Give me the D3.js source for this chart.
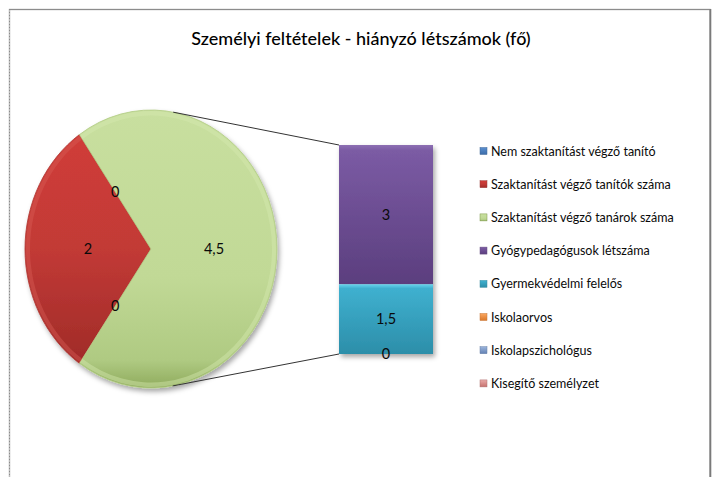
<!DOCTYPE html>
<html><head><meta charset="utf-8">
<script src="https://cdn.jsdelivr.net/npm/d3@7"></script>
<style>
html,body{margin:0;padding:0;background:#fff;}
svg{display:block;}
text{font-family:Lato,"Open Sans",sans-serif;fill:#0a0a0a;}
</style></head><body>
<svg id="c" width="715" height="477"></svg>
<script>
// ---- data ----
const title = "Személyi feltételek - hiányzó létszámok (fő)";
const categories = [
  "Nem szaktanítást végző tanító",
  "Szaktanítást végző tanítók száma",
  "Szaktanítást végző tanárok száma",
  "Gyógypedagógusok létszáma",
  "Gyermekvédelmi felelős",
  "Iskolaorvos",
  "Iskolapszichológus",
  "Kisegítő személyzet"
];
const values = [0, 2, 0, 3, 1.5, 0, 0, 0];
const pieCount = 3; // first points in the pie, rest in the bar
const seriesColors = ["#4f81bd","#c0504d","#9bbb59","#8064a2","#4bacc6","#f79646","#7f9fcf","#d98f8d"];

const hu = d3.formatLocale({decimal:",", thousands:" ", grouping:[3], currency:["","Ft"]});
const fmt = v => hu.format("~g")(v);

const svg = d3.select("#c");
const defs = svg.append("defs");

// frame
svg.append("rect").attr("x",9.5).attr("y",9.5).attr("width",700.5).attr("height",480)
  .attr("fill","#fff").attr("stroke","#8c8c8c").attr("stroke-width",1.3);
svg.append("line").attr("x1",710.5).attr("x2",710.5).attr("y1",9).attr("y2",477)
  .attr("stroke","#7a7a7a").attr("stroke-width",1.6);
svg.append("line").attr("x1",9.5).attr("x2",9.5).attr("y1",10).attr("y2",477)
  .attr("stroke","#bbb").attr("stroke-width",1).attr("stroke-dasharray","2,1");

// title
svg.append("text").attr("x",361).attr("y",45).attr("text-anchor","middle")
  .style("font-size","18px").style("font-weight","500").style("fill","#000").text(title);

// filters
const sh = defs.append("filter").attr("id","sh").attr("x","-20%").attr("y","-20%").attr("width","150%").attr("height","150%");
sh.append("feDropShadow").attr("dx",2).attr("dy",3).attr("stdDeviation",2.5).attr("flood-color","#000").attr("flood-opacity",0.35);

function linGrad(id, stops){
  const g = defs.append("linearGradient").attr("id",id).attr("x1",0).attr("y1",0).attr("x2",0).attr("y2",1);
  stops.forEach(s=>g.append("stop").attr("offset",s[0]).attr("stop-color",s[1]));
}
linGrad("gRed",[[0,"#d03c38"],[0.5,"#c23a36"],[1,"#a02b28"]]);
linGrad("gGreen",[[0,"#c8df9f"],[0.6,"#c1d996"],[0.9,"#afca82"],[1,"#8fab5d"]]);
linGrad("gBlue",[[0,"#5b8fd0"],[1,"#3c6ca8"]]);
linGrad("gPurple",[[0,"#8d6fb3"],[0.04,"#7b5ba4"],[1,"#5b3e7e"]]);
linGrad("gCyan",[[0,"#66d3ec"],[0.06,"#3fb0cf"],[1,"#2c8ea9"]]);
linGrad("gOrange",[[0,"#fba760"],[1,"#d9782a"]]);
linGrad("gBlueGray",[[0,"#9ab4dc"],[1,"#6381b3"]]);
linGrad("gPink",[[0,"#e9aaa8"],[1,"#c6716e"]]);
const gradIds = ["gBlue","gRed","gGreen","gPurple","gCyan","gOrange","gBlueGray","gPink"];

// ---- pie ----
const cx = 151, cy = 249, rx = 126, ry = 139;
const pieVals = values.slice(0,pieCount).map((v,i)=>({v, i, label: fmt(v)}));
const otherSum = d3.sum(values.slice(pieCount));
pieVals.push({v: otherSum, i: 2, label: fmt(otherSum), other:true});
const total = d3.sum(pieVals, d=>d.v);
// rotate so that the "other" slice faces the bar (centered on the right), drawn counter-clockwise
const before = d3.sum(pieVals.slice(0,pieVals.length-1), d=>d.v);
const a0 = Math.PI/2 + (before + otherSum/2)/total*2*Math.PI;
const pie = d3.pie().value(d=>d.v).sort(null).startAngle(a0).endAngle(a0 - 2*Math.PI);
const arcs = pie(pieVals);
const arc = d3.arc().innerRadius(0).outerRadius(rx);
const pg = svg.append("g").attr("transform",`translate(${cx},${cy}) scale(1,${ry/rx})`);
pg.append("g").attr("filter","url(#sh)").selectAll("path").data(arcs.filter(d=>d.data.v>0)).join("path")
  .attr("d",arc)
  .attr("fill",d=>`url(#${gradIds[d.data.i]})`)
  .attr("stroke",d=>d.data.other?"#b3cd86":"#b13a36").attr("stroke-width",0.8);
// rim highlight
pg.selectAll("path.rim").data(arcs.filter(d=>d.data.v>0)).join("path").attr("class","rim")
  .attr("d",d3.arc().innerRadius(rx-5).outerRadius(rx-1))
  .attr("fill",d=>d.data.other?"#d4e8b0":"#d85a55").attr("opacity",0.45);

// labels at half radius
const labArc = d3.arc().innerRadius(rx*0.5).outerRadius(rx*0.5);
svg.append("g").selectAll("text").data(arcs).join("text")
  .attr("x",d=>cx + labArc.centroid(d)[0])
  .attr("y",d=>cy + labArc.centroid(d)[1]*ry/rx + 5)
  .attr("text-anchor","middle").style("font-size","14.5px").text(d=>d.data.label);

// ---- bar ----
const barVals = values.slice(pieCount).map((v,k)=>({v, i:k+pieCount}));
const y = d3.scaleLinear().domain([0, otherSum]).range([354, 145]);
const bx0 = 339, bx1 = 433;
// stack: first bar point on top
let acc = otherSum;
barVals.forEach(d=>{ d.top = acc; acc -= d.v; d.bot = acc; });
const bg = svg.append("g").attr("filter","url(#sh)");
bg.selectAll("rect").data(barVals.filter(d=>d.v>0)).join("rect")
  .attr("x",bx0).attr("width",bx1-bx0)
  .attr("y",d=>y(d.top)).attr("height",d=>y(d.bot)-y(d.top))
  .attr("fill",d=>`url(#${gradIds[d.i]})`);
// labels (coincident labels of zero-height segments are drawn once)
const barLabels = Array.from(d3.group(barVals, d=>d.v+"|"+d.top).values(), g=>g[0]);
svg.append("g").selectAll("text").data(barLabels).join("text")
  .attr("x",(bx0+bx1)/2)
  .attr("y",d=>(y(d.top)+y(d.bot))/2 + 5)
  .attr("text-anchor","middle").style("font-size","14.5px").text(d=>fmt(d.v));

// ---- connector (series) lines: tangents from bar corners to pie ----
function tangent(px, py, lo, hi){
  let best = lo, bestErr = Infinity;
  for(let t=lo; t<=hi; t+=0.0005){
    const qx = cx + rx*Math.sin(t), qy = cy - ry*Math.cos(t);
    const tx = rx*Math.cos(t), ty = ry*Math.sin(t);
    const err = Math.abs((px-qx)*ty - (py-qy)*tx);
    if(err < bestErr){ bestErr = err; best = t; }
  }
  return [cx + rx*Math.sin(best), cy - ry*Math.cos(best)];
}
const tTop = tangent(bx0, y(otherSum), 0, Math.PI/2);
const tBot = tangent(bx0, y(0), Math.PI/2, Math.PI);
svg.append("line").attr("x1",tTop[0]).attr("y1",tTop[1]).attr("x2",bx0).attr("y2",y(otherSum))
  .attr("stroke","#333").attr("stroke-width",1);
svg.append("line").attr("x1",tBot[0]).attr("y1",tBot[1]).attr("x2",bx0).attr("y2",y(0))
  .attr("stroke","#333").attr("stroke-width",1);

// ---- legend ----
const lg = svg.append("g");
const rowY = i => 151 + i*33.2;
lg.selectAll("rect").data(categories).join("rect")
  .attr("x",480).attr("y",(d,i)=>rowY(i)-3.5).attr("width",7).attr("height",7)
  .attr("fill",(d,i)=>`url(#${gradIds[i]})`).attr("stroke",(d,i)=>d3.color(seriesColors[i]).darker(0.6)).attr("stroke-width",0.5);
lg.selectAll("text").data(categories).join("text")
  .attr("x",491).attr("y",(d,i)=>rowY(i)+4.5)
  .style("font-size","12.5px").text(d=>d);
</script>
</body></html>
